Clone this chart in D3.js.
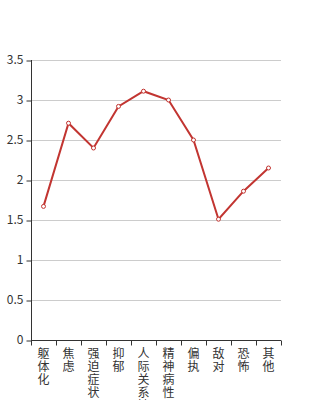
<!DOCTYPE html>
<html><head><meta charset="utf-8">
<script src="https://cdn.jsdelivr.net/npm/d3@7"></script>
<style>body{margin:0;background:#fff}svg{display:block}</style>
</head><body>
<script>
const categories = ["躯体化","焦虑","强迫症状","抑郁","人际关系敏感","精神病性","偏执","敌对","恐怖","其他"];
const values = [1.67, 2.71, 2.40, 2.92, 3.11, 3.00, 2.50, 1.51, 1.86, 2.15];
const yTicks = [0, 0.5, 1, 1.5, 2, 2.5, 3, 3.5];

const W = 313, H = 400;
const m = {left: 31, right: 32, top: 60, bottom: 60};
const svg = d3.select("body").append("svg").attr("width", W).attr("height", H);
const x = d3.scaleBand().domain(categories).range([m.left, W - m.right]);
const y = d3.scaleLinear().domain([0, 3.5]).range([H - m.bottom, m.top]);
const font = "'Noto Sans CJK SC', 'Noto Sans', sans-serif";

// gridlines
svg.append("g").selectAll("line").data(yTicks.filter(d => d > 0)).join("line")
  .attr("x1", m.left).attr("x2", W - m.right)
  .attr("y1", d => y(d) + 0.5).attr("y2", d => y(d) + 0.5)
  .attr("stroke", "#ccc");

// y axis
const ya = svg.append("g").attr("transform", `translate(${m.left + 0.5},0)`)
  .call(d3.axisLeft(y).tickValues(yTicks).tickSize(5).tickPadding(3).tickFormat(d3.format("")));
ya.selectAll("line").attr("stroke", "#333").attr("transform", "translate(0,0.5)");
ya.select(".domain").attr("stroke", "#333").attr("d", `M0,${y(3.5)}V${y(0)}`);
ya.selectAll("text").attr("font-family", font).attr("font-size", 12).attr("fill", "#333");

// x axis
const xg = svg.append("g").attr("transform", `translate(0,${y(0) + 0.5})`);
xg.append("line").attr("x1", m.left).attr("x2", W - m.right).attr("stroke", "#333");
const bounds = categories.map(c => x(c)).concat([W - m.right]);
xg.selectAll("line.tk").data(bounds).join("line").attr("class", "tk")
  .attr("x1", d => Math.round(d) + 0.5).attr("x2", d => Math.round(d) + 0.5)
  .attr("y1", 0).attr("y2", 5).attr("stroke", "#333");
const lbl = xg.selectAll("text").data(categories).join("text")
  .attr("x", d => x(d) + x.bandwidth() / 2)
  .attr("font-family", font).attr("font-size", 12).attr("fill", "#333")
  .attr("text-anchor", "middle");
lbl.each(function(d) {
  const t = d3.select(this);
  Array.from(d).forEach((ch, i) => {
    t.append("tspan").attr("x", x(d) + x.bandwidth() / 2).attr("y", 17 + i * 13).text(ch);
  });
});

// line
const line = d3.line().x((d, i) => x(categories[i]) + x.bandwidth() / 2).y(d => y(d));
svg.append("path").datum(values).attr("d", line)
  .attr("fill", "none").attr("stroke", "#c23531").attr("stroke-width", 2);
svg.append("g").selectAll("circle").data(values).join("circle")
  .attr("cx", (d, i) => x(categories[i]) + x.bandwidth() / 2).attr("cy", d => y(d))
  .attr("r", 2).attr("fill", "#fff").attr("stroke", "#c23531").attr("stroke-width", 1);
</script>
</body></html>
